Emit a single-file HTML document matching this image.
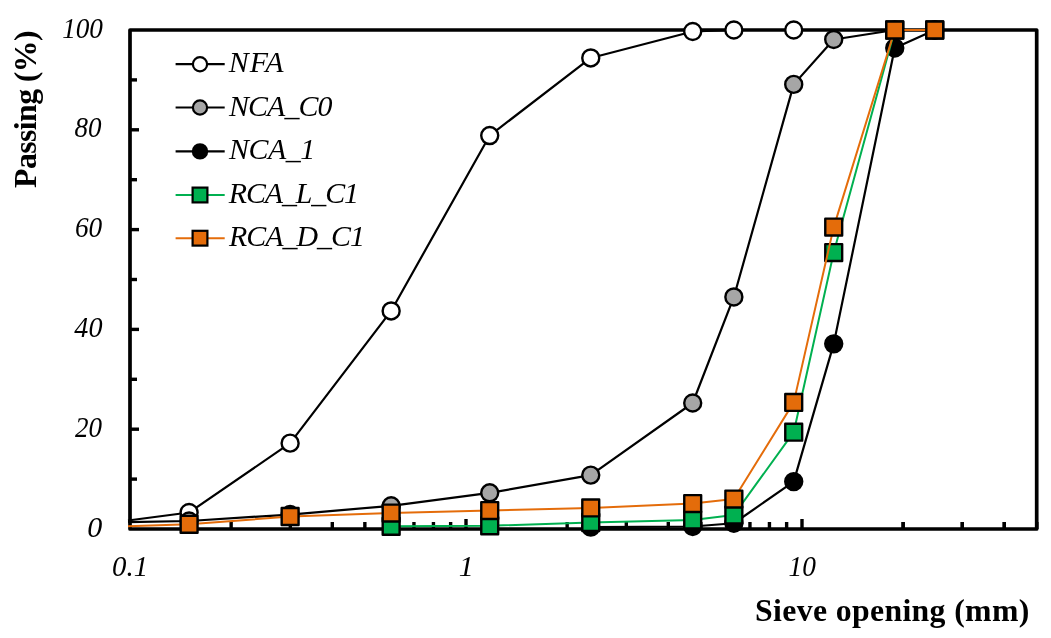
<!DOCTYPE html>
<html><head><meta charset="utf-8"><style>
html,body{margin:0;padding:0;background:#fff;}
body{width:1051px;height:638px;overflow:hidden;font-family:"Liberation Serif",serif;}
svg{display:block;}
text{filter:grayscale(1);}
</style></head><body>
<svg width="1051" height="638" viewBox="0 0 1051 638">
<rect x="130.0" y="30.0" width="906.7" height="499" fill="none" stroke="#000" stroke-width="3.7" stroke-linejoin="round"/>
<line x1="130.0" y1="479.1" x2="137" y2="479.1" stroke="#000" stroke-width="3.4"/>
<line x1="130.0" y1="429.2" x2="139" y2="429.2" stroke="#000" stroke-width="3.4"/>
<line x1="130.0" y1="379.3" x2="137" y2="379.3" stroke="#000" stroke-width="3.4"/>
<line x1="130.0" y1="329.4" x2="139" y2="329.4" stroke="#000" stroke-width="3.4"/>
<line x1="130.0" y1="279.5" x2="137" y2="279.5" stroke="#000" stroke-width="3.4"/>
<line x1="130.0" y1="229.6" x2="139" y2="229.6" stroke="#000" stroke-width="3.4"/>
<line x1="130.0" y1="179.7" x2="137" y2="179.7" stroke="#000" stroke-width="3.4"/>
<line x1="130.0" y1="129.8" x2="139" y2="129.8" stroke="#000" stroke-width="3.4"/>
<line x1="130.0" y1="79.9" x2="137" y2="79.9" stroke="#000" stroke-width="3.4"/>
<line x1="231.15" y1="529.0" x2="231.15" y2="522" stroke="#000" stroke-width="3.4"/>
<line x1="290.31" y1="529.0" x2="290.31" y2="522" stroke="#000" stroke-width="3.4"/>
<line x1="332.29" y1="529.0" x2="332.29" y2="522" stroke="#000" stroke-width="3.4"/>
<line x1="364.85" y1="529.0" x2="364.85" y2="522" stroke="#000" stroke-width="3.4"/>
<line x1="391.46" y1="529.0" x2="391.46" y2="522" stroke="#000" stroke-width="3.4"/>
<line x1="413.95" y1="529.0" x2="413.95" y2="522" stroke="#000" stroke-width="3.4"/>
<line x1="433.44" y1="529.0" x2="433.44" y2="522" stroke="#000" stroke-width="3.4"/>
<line x1="450.63" y1="529.0" x2="450.63" y2="522" stroke="#000" stroke-width="3.4"/>
<line x1="466" y1="529.0" x2="466" y2="519" stroke="#000" stroke-width="3.4"/>
<line x1="567.15" y1="529.0" x2="567.15" y2="522" stroke="#000" stroke-width="3.4"/>
<line x1="626.31" y1="529.0" x2="626.31" y2="522" stroke="#000" stroke-width="3.4"/>
<line x1="668.29" y1="529.0" x2="668.29" y2="522" stroke="#000" stroke-width="3.4"/>
<line x1="700.85" y1="529.0" x2="700.85" y2="522" stroke="#000" stroke-width="3.4"/>
<line x1="727.46" y1="529.0" x2="727.46" y2="522" stroke="#000" stroke-width="3.4"/>
<line x1="749.95" y1="529.0" x2="749.95" y2="522" stroke="#000" stroke-width="3.4"/>
<line x1="769.44" y1="529.0" x2="769.44" y2="522" stroke="#000" stroke-width="3.4"/>
<line x1="786.63" y1="529.0" x2="786.63" y2="522" stroke="#000" stroke-width="3.4"/>
<line x1="802" y1="529.0" x2="802" y2="519" stroke="#000" stroke-width="3.4"/>
<line x1="903.15" y1="529.0" x2="903.15" y2="522" stroke="#000" stroke-width="3.4"/>
<line x1="962.31" y1="529.0" x2="962.31" y2="522" stroke="#000" stroke-width="3.4"/>
<line x1="1004.29" y1="529.0" x2="1004.29" y2="522" stroke="#000" stroke-width="3.4"/>
<line x1="1036.85" y1="529.0" x2="1036.85" y2="522" stroke="#000" stroke-width="3.4"/>
<line x1="903.15" y1="529.0" x2="903.15" y2="522" stroke="#000" stroke-width="3.4"/>
<line x1="962.31" y1="529.0" x2="962.31" y2="522" stroke="#000" stroke-width="3.4"/>
<line x1="1004.29" y1="529.0" x2="1004.29" y2="522" stroke="#000" stroke-width="3.4"/>
<polyline points="128,520.5 189.1,512.53 290.12,443.17 391.15,310.94 489.72,135.54 590.75,57.94 692.7,31.5 733.86,30 793.72,30" fill="none" stroke="#000" stroke-width="2.2" stroke-linejoin="round"/>
<circle cx="189.1" cy="512.53" r="8.5" fill="#fff" stroke="#000" stroke-width="2.4"/>
<circle cx="290.12" cy="443.17" r="8.5" fill="#fff" stroke="#000" stroke-width="2.4"/>
<circle cx="391.15" cy="310.94" r="8.5" fill="#fff" stroke="#000" stroke-width="2.4"/>
<circle cx="489.72" cy="135.54" r="8.5" fill="#fff" stroke="#000" stroke-width="2.4"/>
<circle cx="590.75" cy="57.94" r="8.5" fill="#fff" stroke="#000" stroke-width="2.4"/>
<circle cx="692.7" cy="31.5" r="8.5" fill="#fff" stroke="#000" stroke-width="2.4"/>
<circle cx="733.86" cy="30" r="8.5" fill="#fff" stroke="#000" stroke-width="2.4"/>
<circle cx="793.72" cy="30" r="8.5" fill="#fff" stroke="#000" stroke-width="2.4"/>
<polyline points="128,522.2 189.1,521.02 290.12,514.53 391.15,505.8 489.72,492.82 590.75,475.11 692.7,403 733.86,296.97 793.72,84.39 833.72,39.48 894.75,30 934.75,30" fill="none" stroke="#000" stroke-width="2.2" stroke-linejoin="round"/>
<circle cx="189.1" cy="521.02" r="8.5" fill="#A6A6A6" stroke="#000" stroke-width="2.4"/>
<circle cx="290.12" cy="514.53" r="8.5" fill="#A6A6A6" stroke="#000" stroke-width="2.4"/>
<circle cx="391.15" cy="505.8" r="8.5" fill="#A6A6A6" stroke="#000" stroke-width="2.4"/>
<circle cx="489.72" cy="492.82" r="8.5" fill="#A6A6A6" stroke="#000" stroke-width="2.4"/>
<circle cx="590.75" cy="475.11" r="8.5" fill="#A6A6A6" stroke="#000" stroke-width="2.4"/>
<circle cx="692.7" cy="403" r="8.5" fill="#A6A6A6" stroke="#000" stroke-width="2.4"/>
<circle cx="733.86" cy="296.97" r="8.5" fill="#A6A6A6" stroke="#000" stroke-width="2.4"/>
<circle cx="793.72" cy="84.39" r="8.5" fill="#A6A6A6" stroke="#000" stroke-width="2.4"/>
<circle cx="833.72" cy="39.48" r="8.5" fill="#A6A6A6" stroke="#000" stroke-width="2.4"/>
<circle cx="894.75" cy="30" r="8.5" fill="#A6A6A6" stroke="#000" stroke-width="2.4"/>
<circle cx="934.75" cy="30" r="8.5" fill="#A6A6A6" stroke="#000" stroke-width="2.4"/>
<polyline points="590.75,527.1 692.7,526.5 733.86,523.26 793.72,481.6 833.72,343.87 894.75,47.96 934.75,30" fill="none" stroke="#000" stroke-width="2.2" stroke-linejoin="round"/>
<circle cx="590.75" cy="527.1" r="8.5" fill="#000" stroke="#000" stroke-width="2.4"/>
<circle cx="692.7" cy="526.5" r="8.5" fill="#000" stroke="#000" stroke-width="2.4"/>
<circle cx="733.86" cy="523.26" r="8.5" fill="#000" stroke="#000" stroke-width="2.4"/>
<circle cx="793.72" cy="481.6" r="8.5" fill="#000" stroke="#000" stroke-width="2.4"/>
<circle cx="833.72" cy="343.87" r="8.5" fill="#000" stroke="#000" stroke-width="2.4"/>
<circle cx="894.75" cy="47.96" r="8.5" fill="#000" stroke="#000" stroke-width="2.4"/>
<circle cx="934.75" cy="30" r="8.5" fill="#000" stroke="#000" stroke-width="2.4"/>
<polyline points="391.15,526.31 489.72,525.76 590.75,522.51 692.7,520.02 733.86,515.03 793.72,432.19 833.72,252.55 894.75,30 934.75,30" fill="none" stroke="#00B050" stroke-width="2.0" stroke-linejoin="round"/>
<rect x="382.7" y="517.86" width="16.9" height="16.9" fill="#00B050" stroke="#000" stroke-width="2.4" stroke-linejoin="round"/>
<rect x="481.27" y="517.31" width="16.9" height="16.9" fill="#00B050" stroke="#000" stroke-width="2.4" stroke-linejoin="round"/>
<rect x="582.3" y="514.06" width="16.9" height="16.9" fill="#00B050" stroke="#000" stroke-width="2.4" stroke-linejoin="round"/>
<rect x="684.25" y="511.57" width="16.9" height="16.9" fill="#00B050" stroke="#000" stroke-width="2.4" stroke-linejoin="round"/>
<rect x="725.41" y="506.58" width="16.9" height="16.9" fill="#00B050" stroke="#000" stroke-width="2.4" stroke-linejoin="round"/>
<rect x="785.27" y="423.74" width="16.9" height="16.9" fill="#00B050" stroke="#000" stroke-width="2.4" stroke-linejoin="round"/>
<rect x="825.27" y="244.1" width="16.9" height="16.9" fill="#00B050" stroke="#000" stroke-width="2.4" stroke-linejoin="round"/>
<rect x="886.3" y="21.55" width="16.9" height="16.9" fill="#00B050" stroke="#000" stroke-width="2.4" stroke-linejoin="round"/>
<rect x="926.3" y="21.55" width="16.9" height="16.9" fill="#00B050" stroke="#000" stroke-width="2.4" stroke-linejoin="round"/>
<polyline points="128,526.2 189.1,524.31 290.12,516.52 391.15,513.03 489.72,510.54 590.75,507.89 692.7,503.55 733.86,499.06 793.72,402.4 833.72,227.1 894.75,30 934.75,30" fill="none" stroke="#E46C0A" stroke-width="2.0" stroke-linejoin="round"/>
<rect x="180.65" y="515.86" width="16.9" height="16.9" fill="#E46C0A" stroke="#000" stroke-width="2.4" stroke-linejoin="round"/>
<rect x="281.67" y="508.07" width="16.9" height="16.9" fill="#E46C0A" stroke="#000" stroke-width="2.4" stroke-linejoin="round"/>
<rect x="382.7" y="504.58" width="16.9" height="16.9" fill="#E46C0A" stroke="#000" stroke-width="2.4" stroke-linejoin="round"/>
<rect x="481.27" y="502.09" width="16.9" height="16.9" fill="#E46C0A" stroke="#000" stroke-width="2.4" stroke-linejoin="round"/>
<rect x="582.3" y="499.44" width="16.9" height="16.9" fill="#E46C0A" stroke="#000" stroke-width="2.4" stroke-linejoin="round"/>
<rect x="684.25" y="495.1" width="16.9" height="16.9" fill="#E46C0A" stroke="#000" stroke-width="2.4" stroke-linejoin="round"/>
<rect x="725.41" y="490.61" width="16.9" height="16.9" fill="#E46C0A" stroke="#000" stroke-width="2.4" stroke-linejoin="round"/>
<rect x="785.27" y="393.95" width="16.9" height="16.9" fill="#E46C0A" stroke="#000" stroke-width="2.4" stroke-linejoin="round"/>
<rect x="825.27" y="218.65" width="16.9" height="16.9" fill="#E46C0A" stroke="#000" stroke-width="2.4" stroke-linejoin="round"/>
<rect x="886.3" y="21.55" width="16.9" height="16.9" fill="#E46C0A" stroke="#000" stroke-width="2.4" stroke-linejoin="round"/>
<rect x="926.3" y="21.55" width="16.9" height="16.9" fill="#E46C0A" stroke="#000" stroke-width="2.4" stroke-linejoin="round"/>
<line x1="175.6" y1="64.2" x2="224.7" y2="64.2" stroke="#000" stroke-width="2.2"/>
<circle cx="200" cy="64.2" r="7.1" fill="#fff" stroke="#000" stroke-width="2.2"/>
<line x1="175.6" y1="107.5" x2="224.7" y2="107.5" stroke="#000" stroke-width="2.2"/>
<circle cx="200" cy="107.5" r="7.1" fill="#A6A6A6" stroke="#000" stroke-width="2.2"/>
<line x1="175.6" y1="151.4" x2="224.7" y2="151.4" stroke="#000" stroke-width="2.2"/>
<circle cx="200" cy="151.4" r="7.1" fill="#000" stroke="#000" stroke-width="2.2"/>
<line x1="175.6" y1="195.0" x2="224.7" y2="195.0" stroke="#00B050" stroke-width="2.0"/>
<rect x="192.6" y="187.6" width="14.8" height="14.8" fill="#00B050" stroke="#000" stroke-width="2.2"/>
<line x1="175.6" y1="238.2" x2="224.7" y2="238.2" stroke="#E46C0A" stroke-width="2.0"/>
<rect x="192.6" y="230.8" width="14.8" height="14.8" fill="#E46C0A" stroke="#000" stroke-width="2.2"/>
<text id="t_y0" x="102.150" y="537.200" text-anchor="end" font-family="Liberation Serif" font-style="italic" font-size="30.000">0</text>
<text id="t_y20" x="101.900" y="437.350" text-anchor="end" font-family="Liberation Serif" font-style="italic" font-size="30.000" textLength="27.000" lengthAdjust="spacingAndGlyphs">20</text>
<text id="t_y40" x="102.450" y="337.100" text-anchor="end" font-family="Liberation Serif" font-style="italic" font-size="30.000" textLength="28.100" lengthAdjust="spacingAndGlyphs">40</text>
<text id="t_y60" x="102.200" y="236.750" text-anchor="end" font-family="Liberation Serif" font-style="italic" font-size="30.000" textLength="27.271" lengthAdjust="spacingAndGlyphs">60</text>
<text id="t_y80" x="101.550" y="137.350" text-anchor="end" font-family="Liberation Serif" font-style="italic" font-size="30.000" textLength="26.971" lengthAdjust="spacingAndGlyphs">80</text>
<text id="t_y100" x="103.000" y="38.100" text-anchor="end" font-family="Liberation Serif" font-style="italic" font-size="30.000" textLength="40.871" lengthAdjust="spacingAndGlyphs">100</text>
<text id="t_x0.1" x="130.100" y="576.200" text-anchor="middle" font-family="Liberation Serif" font-style="italic" font-size="30.000" textLength="35.957" lengthAdjust="spacingAndGlyphs">0.1</text>
<text id="t_x1" x="466.300" y="576.450" text-anchor="middle" font-family="Liberation Serif" font-style="italic" font-size="30.000">1</text>
<text id="t_x10" x="802.250" y="576.250" text-anchor="middle" font-family="Liberation Serif" font-style="italic" font-size="30.000" textLength="27.371" lengthAdjust="spacingAndGlyphs">10</text>
<text id="t_LNFA" x="228.650" y="71.900" text-anchor="start" font-family="Liberation Serif" font-style="italic" font-size="29.900" textLength="54.800" lengthAdjust="spacing">NFA</text>
<text id="t_LNCA_C0" x="229.100" y="116.300" text-anchor="start" font-family="Liberation Serif" font-style="italic" font-size="29.900" textLength="103.350" lengthAdjust="spacing">NCA_C0</text>
<text id="t_LNCA_1" x="229.000" y="159.300" text-anchor="start" font-family="Liberation Serif" font-style="italic" font-size="29.900" textLength="86.304" lengthAdjust="spacing">NCA_1</text>
<text id="t_LRCA_L_C1" x="228.800" y="202.700" text-anchor="start" font-family="Liberation Serif" font-style="italic" font-size="29.900" textLength="130.154" lengthAdjust="spacing">RCA_L_C1</text>
<text id="t_LRCA_D_C1" x="229.000" y="246.000" text-anchor="start" font-family="Liberation Serif" font-style="italic" font-size="29.900" textLength="135.970" lengthAdjust="spacing">RCA_D_C1</text>
<text id="t_xtitle" x="755.000" y="620.800" text-anchor="start" font-family="Liberation Serif" font-weight="bold" font-size="31.778" textLength="274.325" lengthAdjust="spacing">Sieve opening (mm)</text>
<g transform="translate(36.200,187.950) rotate(-90)"><text id="t_ytitle" x="0" y="0" font-family="Liberation Serif" font-weight="bold" font-size="31.800" textLength="157.619" lengthAdjust="spacing">Passing (%)</text></g>
</svg>
</body></html>
